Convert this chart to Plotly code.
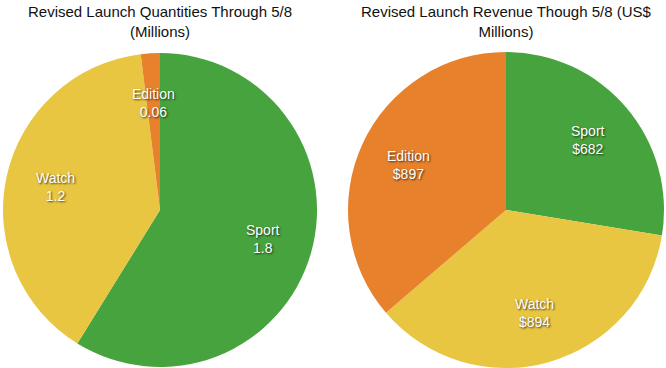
import math
import plotly.graph_objects as go

categories = ["Sport", "Watch", "Edition"]
quantities = [1.8, 1.2, 0.06]
quantity_labels = ["1.8", "1.2", "0.06"]
revenue = [682, 894, 897]
revenue_labels = ["$682", "$894", "$897"]
colors = ["#47a33d", "#e9c642", "#e8812c"]

title_left = "Revised Launch Quantities Through 5/8<br>(Millions)"
title_right = "Revised Launch Revenue Though 5/8 (US$<br>Millions)"

W, H = 666, 368
# pie geometry in pixels (center x, center y from top, radius)
pies = [
    dict(cx=160, cy=210, r=157, values=quantities, texts=quantity_labels, title=title_left),
    dict(cx=506, cy=210, r=158, values=revenue, texts=revenue_labels, title=title_right),
]

fig = go.Figure()
annotations = []
for p in pies:
    dom_x = [(p["cx"] - p["r"]) / W, (p["cx"] + p["r"]) / W]
    dom_y = [1 - (p["cy"] + p["r"]) / H, 1 - (p["cy"] - p["r"]) / H]
    fig.add_trace(go.Pie(
        labels=categories, values=p["values"], sort=False, direction="clockwise",
        rotation=0, marker=dict(colors=colors, line=dict(width=0)),
        textinfo="none", hoverinfo="label+value", showlegend=False,
        domain=dict(x=dom_x, y=dom_y),
    ))
    total = sum(p["values"])
    acc = 0.0
    for lab, v, t in zip(categories, p["values"], p["texts"]):
        mid = (acc + v / 2) / total * 2 * math.pi
        acc += v
        rr = p["r"] * 0.68
        px = p["cx"] + rr * math.sin(mid)
        py = p["cy"] - rr * math.cos(mid)
        annotations.append(dict(
            x=px / W, y=1 - py / H, xref="paper", yref="paper",
            text=f"{lab}<br>{t}", showarrow=False, xanchor="center", yanchor="middle",
            font=dict(family="Liberation Sans, Arial, sans-serif", size=14, color="white",
                      shadow="1px 1px 2px rgba(0,0,0,0.7)"),
        ))
    annotations.append(dict(
        x=p["cx"] / W, y=1 - 1 / H, xref="paper", yref="paper", text=p["title"],
        showarrow=False, xanchor="center", yanchor="top",
        font=dict(family="Liberation Sans, Arial, sans-serif", size=15, color="#111111"),
    ))

fig.update_layout(
    width=W, height=H, margin=dict(l=0, r=0, t=0, b=0),
    paper_bgcolor="white", plot_bgcolor="white",
    annotations=annotations,
)
fig.write_html("out.html")
